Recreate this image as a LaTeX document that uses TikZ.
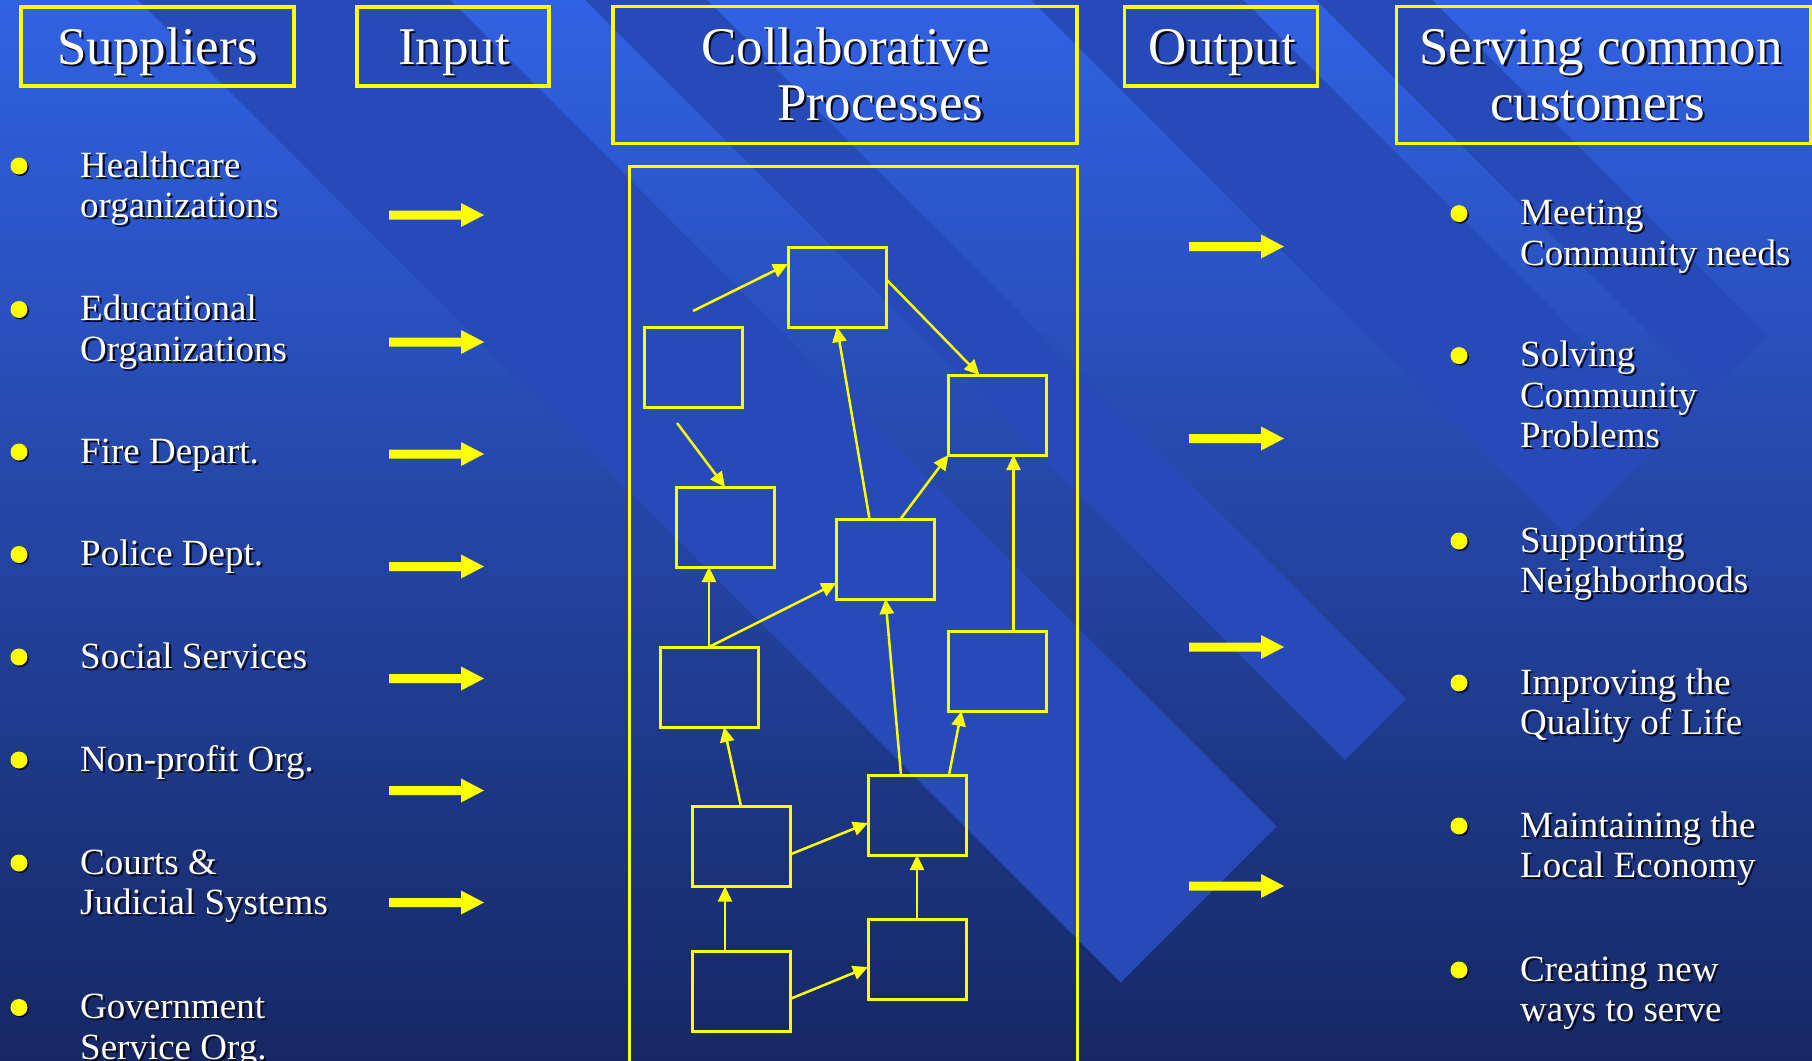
\documentclass[tikz,border=0pt]{standalone}
\usepackage{fontspec}
\setmainfont{Liberation Serif}
\usetikzlibrary{arrows.meta}
\definecolor{bgtop}{RGB}{49,98,228}
\definecolor{bgbot}{RGB}{22,40,100}
\definecolor{bandcol}{RGB}{38,75,185}
\definecolor{yel}{RGB}{255,255,0}
\definecolor{shdcol}{RGB}{10,10,30}
\newcommand\shd[1]{\leavevmode\rlap{\hspace*{2.2pt}\raisebox{-2.2pt}{\textcolor{shdcol}{#1}}}#1}
\newcommand\bandfill[3]{\fill[bandcol] ({(-400+#1)/2},{(-400-#1)/2}) -- ({(-400+#2)/2},{(-400-#2)/2}) -- ({(#3+#2)/2},{(#3-#2)/2}) -- ({(#3+#1)/2},{(#3-#1)/2}) -- cycle;}
\newcommand\fatarrow[2]{\fill[yel] (#1,#2-4.5) -- ++(72,0) -- ++(0,-7.5) -- (#1+95,#2) -- (#1+72,#2+12) -- ++(0,-7.5) -- (#1,#2+4.5) -- cycle;}
\begin{document}
\begin{tikzpicture}[x=1pt,y=-1pt,
  hbox/.style={draw=yel, line width=3.2pt, inner sep=0pt, outer sep=0pt},
  pbox/.style={draw=yel, line width=3pt, minimum width=98pt, minimum height=80pt, inner sep=0pt, outer sep=0pt},
  conn/.style={draw=yel, line width=2.5pt, -{Triangle[length=15pt,width=14pt]}},
  htext/.style={text=white, font=\fontsize{53}{58}\selectfont, inner sep=0pt, anchor=base},
  ltext/.style={text=white, font=\fontsize{37}{40}\selectfont, inner sep=0pt, anchor=base west},
  bul/.style={circle, fill=yel, minimum size=17pt, inner sep=0pt}]
\clip (0,0) rectangle (1812,1060);
\shade[top color=bgtop,bottom color=bgbot] (0,0) rectangle (1812,1060);
% diagonal bands
\bandfill{138}{450}{2103}
\bandfill{585}{707}{2105}
\bandfill{1031}{1243}{2103}
\bandfill{1316}{1432}{2103}

% header boxes
\node[hbox, minimum width=273pt, minimum height=79pt] (hsup) at (157.5,46.5) {};
\node[hbox, minimum width=192pt, minimum height=79pt] (hinp) at (453,46.5) {};
\node[hbox, minimum width=464pt, minimum height=137pt] (hcol) at (845,75.3) {};
\node[hbox, minimum width=193pt, minimum height=79pt] (hout) at (1220.7,46.5) {};
\node[hbox, minimum width=414pt, minimum height=137pt] (hsrv) at (1603.5,75.3) {};
\node[htext] (tsup) at (157.5,64) {\shd{Suppliers}};
\node[htext] (tinp) at (454,64) {\shd{Input}};
\node[htext] (tcol1) at (845.5,64) {\shd{Collaborative}};
\node[htext] (tcol2) at (880.5,120.6) {\shd{Processes}};
\node[htext] (tout) at (1222.5,64) {\shd{Output}};
\node[htext] (tsrv1) at (1601,64) {\shd{Serving common}};
\node[htext] (tsrv2) at (1597.5,120.6) {\shd{customers}};

% container
\draw[yel, line width=3pt] (629,166) rectangle (1077,1080);

% process boxes
\node[pbox] (A) at (837,287) {};
\node[pbox] (B) at (693,367) {};
\node[pbox] (C) at (997.5,415) {};
\node[pbox] (D) at (725,527) {};
\node[pbox] (E) at (885.5,559) {};
\node[pbox] (F) at (709,687) {};
\node[pbox] (G) at (997.5,671) {};
\node[pbox] (H) at (741,846.5) {};
\node[pbox] (I) at (917,815) {};
\node[pbox] (J) at (741,991) {};
\node[pbox] (K) at (917,959) {};
\coordinate (s1) at (693,311);
\coordinate (s2) at (677,423);
\draw[conn] (s1) -- ([yshift=23pt]A.west);
\draw[conn] ([yshift=8pt]A.east) -- ([xshift=-18pt]C.north);
\draw[conn] (s2) -- (D.north);
\draw[conn] ([xshift=-16pt]E.north) -- (A.south);
\draw[conn] ([xshift=15pt]E.north) -- (C.south west);
\draw[conn] (F.north) -- (F.north |- D.south);
\draw[conn] (F.north) -- ([yshift=-24pt]E.west);
\draw[conn] ([xshift=16pt]G.north) -- ([xshift=16pt]C.south);
\draw[conn] (H.north) -- ([xshift=15pt]F.south);
\draw[conn] ([yshift=-8pt]H.east) -- ([yshift=-8pt]I.west);
\draw[conn] ([xshift=-16pt]I.north) -- (E.south);
\draw[conn] ([xshift=32pt]I.north) -- ([xshift=-36pt]G.south);
\draw[conn] ([xshift=-16pt]J.north) -- ([xshift=-16pt]H.south);
\draw[conn] ([yshift=-8pt]J.east) -- ([yshift=-8pt]K.west);
\draw[conn] (K.north) -- (I.south);

% fat arrows
\fatarrow{389}{215}
\fatarrow{389}{342}
\fatarrow{389}{454}
\fatarrow{389}{566.5}
\fatarrow{389}{678.5}
\fatarrow{389}{790.5}
\fatarrow{389}{902.5}
\fatarrow{1189}{246.5}
\fatarrow{1189}{438.5}
\fatarrow{1189}{647}
\fatarrow{1189}{886}

% left list
\foreach \y/\n in {177/1,320.5/2,463/3,565.5/4,668/5,771/6,874/7,1018.5/8}{
  \fill[shdcol] (20.5,\y-9.5) circle (8.5);
  \node[bul] (lb\n) at (19,\y-11) {};
}
\node[ltext] (l1a) at (80,177) {\shd{Healthcare}};
\node[ltext] (l1b) at (80,217.5) {\shd{organizations}};
\node[ltext] (l2a) at (80,320.5) {\shd{Educational}};
\node[ltext] (l2b) at (80,361) {\shd{Organizations}};
\node[ltext] (l3a) at (80,463) {\shd{Fire Depart.}};
\node[ltext] (l4a) at (80,565.5) {\shd{Police Dept.}};
\node[ltext] (l5a) at (80,668) {\shd{Social Services}};
\node[ltext] (l6a) at (80,771) {\shd{Non-profit Org.}};
\node[ltext] (l7a) at (80,874) {\shd{Courts \&}};
\node[ltext] (l7b) at (80,914.5) {\shd{Judicial Systems}};
\node[ltext] (l8a) at (80,1018.5) {\shd{Government}};
\node[ltext] (l8b) at (80,1059) {\shd{Service Org.}};

% right list
\foreach \y/\n in {224.6/1,366.6/2,552/3,694/4,837/5,981/6}{
  \fill[shdcol] (1460.5,\y-9.5) circle (8.5);
  \node[bul] (rb\n) at (1459,\y-11) {};
}
\node[ltext] (r1a) at (1520,224.6) {\shd{Meeting}};
\node[ltext] (r1b) at (1520,265) {\shd{Community needs}};
\node[ltext] (r2a) at (1520,366.6) {\shd{Solving}};
\node[ltext] (r2b) at (1520,407) {\shd{Community}};
\node[ltext] (r2c) at (1520,447.6) {\shd{Problems}};
\node[ltext] (r3a) at (1520,552) {\shd{Supporting}};
\node[ltext] (r3b) at (1520,592) {\shd{Neighborhoods}};
\node[ltext] (r4a) at (1520,694) {\shd{Improving the}};
\node[ltext] (r4b) at (1520,734.5) {\shd{Quality of Life}};
\node[ltext] (r5a) at (1520,837) {\shd{Maintaining the}};
\node[ltext] (r5b) at (1520,877.5) {\shd{Local Economy}};
\node[ltext] (r6a) at (1520,981) {\shd{Creating new}};
\node[ltext] (r6b) at (1520,1021) {\shd{ways to serve}};
\end{tikzpicture}
\end{document}
